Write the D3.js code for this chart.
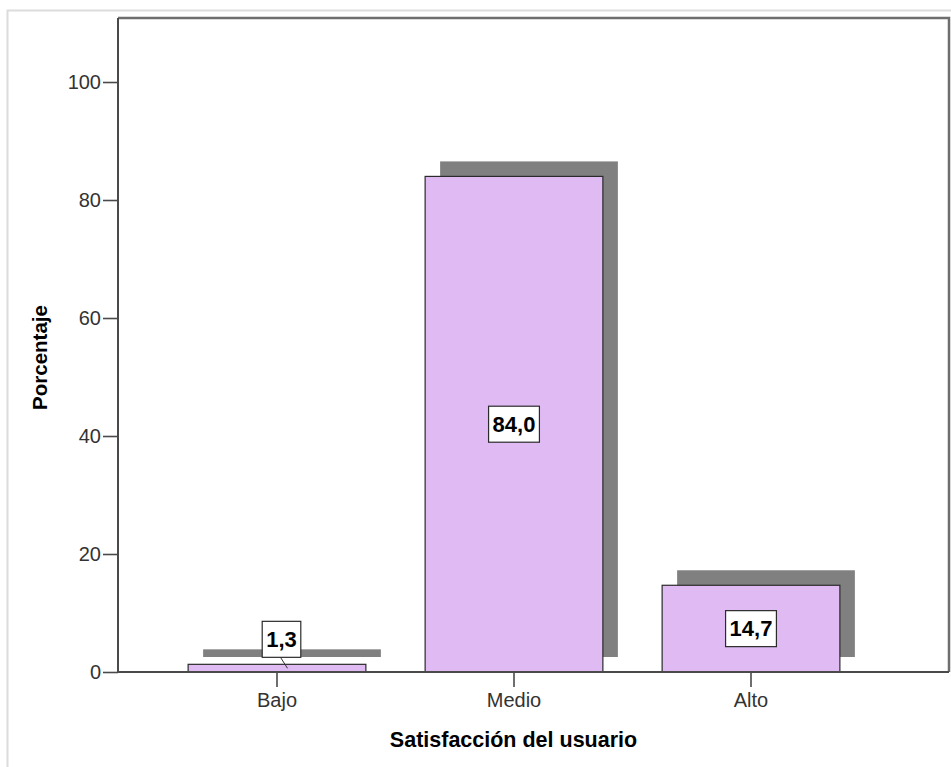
<!DOCTYPE html>
<html>
<head>
<meta charset="utf-8">
<script src="https://cdn.jsdelivr.net/npm/d3@7"></script>
<style>
  html, body { margin: 0; padding: 0; background: #fff; }
  svg { display: block; }
  text { font-family: Arial, "Liberation Sans", sans-serif; }
</style>
</head>
<body>
<svg id="chart" width="951" height="767"></svg>
<script>
// ---- data ----
const categories = ["Bajo", "Medio", "Alto"];
const values = [1.3, 84.0, 14.7];
const valueLabels = ["1,3", "84,0", "14,7"];
const yTicks = [0, 20, 40, 60, 80, 100];
const xTitle = "Satisfacción del usuario";
const yTitle = "Porcentaje";

// ---- layout ----
const W = 951, H = 767;
const plot = { left: 118, top: 18, right: 949, bottom: 672 };
const svg = d3.select("#chart");

// outer light frame
svg.append("rect")
  .attr("x", 7.5).attr("y", 10.5)
  .attr("width", W + 20).attr("height", H + 20)
  .attr("fill", "none").attr("stroke", "#dcdcdc").attr("stroke-width", 2);

const x = d3.scaleBand()
  .domain(categories)
  .range([158.5, 869.5])
  .paddingInner(0.25)
  .paddingOuter(0.125);

const y = d3.scaleLinear()
  .domain([0, 110.85])
  .range([plot.bottom, plot.top]);

// plot frame top & right
svg.append("path")
  .attr("d", `M${plot.left},${plot.top}H${plot.right}V${plot.bottom}`)
  .attr("fill", "none").attr("stroke", "#6e6e6e").attr("stroke-width", 2.5);

// shadows
const sdx = 15, sdy = -15;
svg.append("g").selectAll("rect")
  .data(categories)
  .join("rect")
  .attr("x", d => x(d) + sdx)
  .attr("y", (d, i) => y(values[i]) + sdy)
  .attr("width", x.bandwidth())
  .attr("height", (d, i) => y(0) - y(values[i]))
  .attr("fill", "#808080");

// bars
svg.append("g").selectAll("rect")
  .data(categories)
  .join("rect")
  .attr("x", d => x(d))
  .attr("y", (d, i) => y(values[i]))
  .attr("width", x.bandwidth())
  .attr("height", (d, i) => y(0) - y(values[i]))
  .attr("fill", "#dfbaf3")
  .attr("stroke", "#2b2b2b")
  .attr("stroke-width", 1.2);

// axes
const yAxis = d3.axisLeft(y).tickValues(yTicks).tickSize(15).tickPadding(2).tickFormat(d3.format("d"));
const gy = svg.append("g").attr("transform", `translate(${plot.left},0)`).call(yAxis);
gy.select(".domain").attr("d", `M0,${plot.top}V${plot.bottom}`).attr("stroke", "#4a4a4a").attr("stroke-width", 2);
gy.selectAll(".tick line").attr("stroke", "#4a4a4a").attr("stroke-width", 1.6);
gy.selectAll(".tick text").attr("font-size", 20).attr("fill", "#333").attr("font-family", "Arial, 'Liberation Sans', sans-serif");

const xAxis = d3.axisBottom(x).tickSize(15).tickPadding(6);
const gx = svg.append("g").attr("transform", `translate(0,${plot.bottom})`).call(xAxis);
gx.select(".domain").attr("d", `M${plot.left},0H${plot.right}`).attr("stroke", "#4a4a4a").attr("stroke-width", 2);
gx.selectAll(".tick line").attr("stroke", "#4a4a4a").attr("stroke-width", 1.6);
gx.selectAll(".tick text").attr("font-size", 20).attr("fill", "#333").attr("font-family", "Arial, 'Liberation Sans', sans-serif");

// data labels
const labelG = svg.append("g");
categories.forEach((c, i) => {
  const cx = x(c) + x.bandwidth() / 2;
  const top = y(values[i]);
  const small = (y(0) - top) < 40;
  const lx = small ? cx + 4.5 : cx;
  const ly = small ? top - 25 : (top + y(0)) / 2;
  const g = labelG.append("g");
  if (small) {
    g.append("line")
      .attr("x1", lx - 1).attr("y1", ly + 18)
      .attr("x2", lx + 6).attr("y2", top + 4)
      .attr("stroke", "#333").attr("stroke-width", 1);
  }
  const rect = g.append("rect").attr("fill", "#fff").attr("stroke", "#2b2b2b").attr("stroke-width", 1.2);
  const t = g.append("text")
    .attr("x", lx).attr("y", ly)
    .attr("text-anchor", "middle")
    .attr("dominant-baseline", "central")
    .attr("font-size", 22).attr("font-weight", "bold").attr("fill", "#000")
    .text(valueLabels[i]);
  const bb = t.node().getBBox();
  const bw = bb.width + 8, bh = 36;
  rect.attr("x", lx - bw / 2).attr("y", ly - bh / 2).attr("width", bw).attr("height", bh);
});

// axis titles
svg.append("text")
  .attr("x", 513.5)
  .attr("y", 747)
  .attr("text-anchor", "middle")
  .attr("font-size", 21.5).attr("font-weight", "bold").attr("fill", "#000")
  .text(xTitle);

svg.append("text")
  .attr("transform", `translate(47,357.5) rotate(-90)`)
  .attr("text-anchor", "middle")
  .attr("font-size", 20.5).attr("font-weight", "bold").attr("fill", "#000")
  .text(yTitle);
</script>
</body>
</html>
